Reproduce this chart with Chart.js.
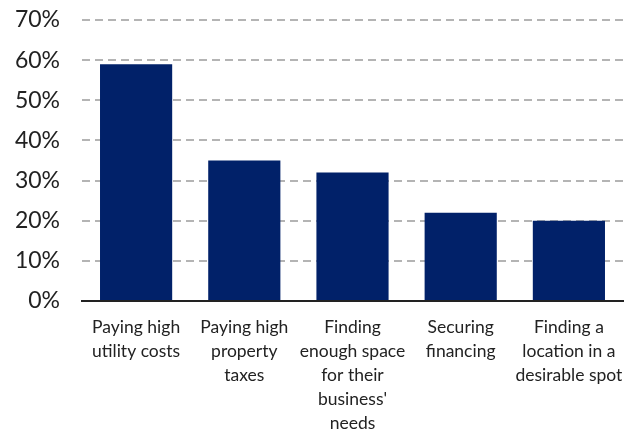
<!DOCTYPE html>
<html>
<head>
<meta charset="utf-8">
<script src="https://cdn.jsdelivr.net/npm/chart.js@4"></script>
<style>
  html, body { margin: 0; padding: 0; background: #fff; }
  #wrap { width: 639px; height: 429px; position: relative; }
</style>
</head>
<body>
<div id="wrap"><canvas id="c" width="639" height="429"></canvas></div>
<script>
const categories = [
  ["Paying high", "utility costs"],
  ["Paying high", "property", "taxes"],
  ["Finding", "enough space", "for their", "business'", "needs"],
  ["Securing", "financing"],
  ["Finding a", "location in a", "desirable spot"]
];
const values = [59, 35, 32, 22, 20];
const yTicks = [0, 10, 20, 30, 40, 50, 60, 70];

const FONT = "Lato, 'Open Sans', sans-serif";

new Chart(document.getElementById('c'), {
  type: 'bar',
  data: {
    labels: categories,
    datasets: [{
      data: values,
      backgroundColor: '#012169',
      borderWidth: 0,
      categoryPercentage: 1,
      barPercentage: 0.667
    }]
  },
  options: {
    responsive: false,
    animation: false,
    devicePixelRatio: 1,
    layout: { padding: { top: 20, right: 16, left: 0, bottom: 0 } },
    plugins: { legend: { display: false }, tooltip: { enabled: false } },
    scales: {
      x: {
        grid: { display: false },
        border: { display: true, color: '#222', width: 2 },
        ticks: {
          color: '#222',
          font: { family: FONT, size: 17.5, lineHeight: 1.37 },
          padding: 6,
          maxRotation: 0,
          autoSkip: false
        },
        afterFit(s) { s.height = 128; }
      },
      y: {
        min: 0, max: 70,
        afterBuildTicks(s) { s.ticks = yTicks.map(v => ({ value: v })); },
        grid: {
          drawTicks: false,
          color: ctx => ctx.tick && ctx.tick.value === 0 ? 'rgba(0,0,0,0)' : '#b4b4b4',
          lineWidth: 2
        },
        border: { display: false, dash: [8, 5] },
        ticks: {
          color: '#222',
          font: { family: FONT, size: 23 },
          padding: 22,
          callback: v => v + '%'
        },
        afterFit(s) { s.width = 82; s.paddingTop = 0; s.paddingBottom = 0; }
      }
    }
  }
});
</script>
</body>
</html>
